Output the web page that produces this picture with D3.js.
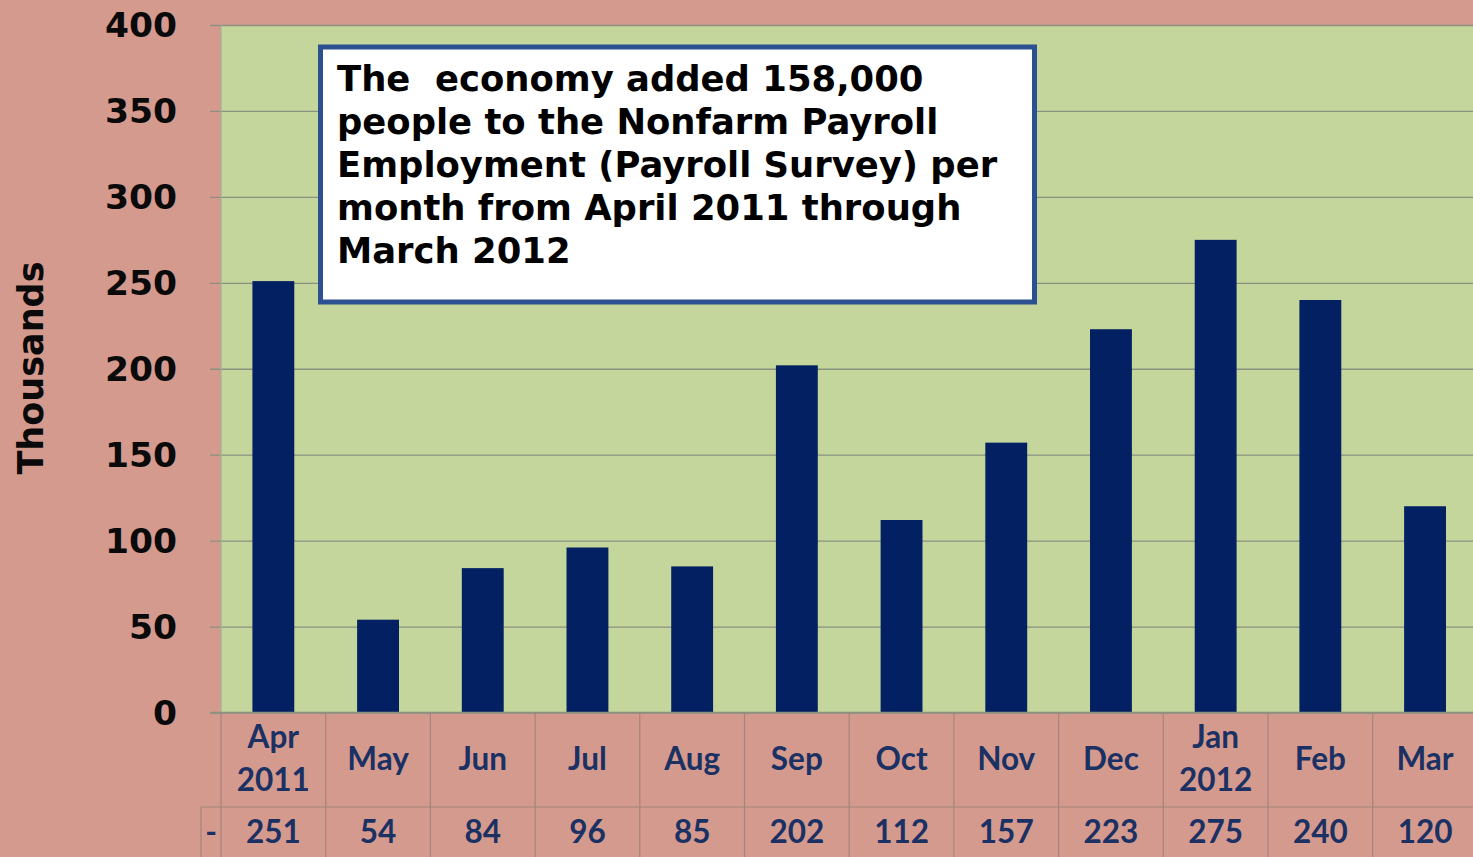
<!DOCTYPE html>
<html>
<head>
<meta charset="utf-8">
<script src="https://cdn.jsdelivr.net/npm/d3@7/dist/d3.min.js"></script>
<style>
  html, body { margin: 0; padding: 0; background: #d59a8e; }
  svg { display: block; }
</style>
</head>
<body>
<svg id="chart" width="1473" height="857"></svg>
<script>
// Monthly change in nonfarm payroll employment, thousands
const months = ["Apr", "May", "Jun", "Jul", "Aug", "Sep", "Oct", "Nov", "Dec", "Jan", "Feb", "Mar"];
const years = ["2011", "", "", "", "", "", "", "", "", "2012", "", ""];
const jobsAdded = [251, 54, 84, 96, 85, 202, 112, 157, 223, 275, 240, 120];
const yTicks = [0, 50, 100, 150, 200, 250, 300, 350, 400];
const noteLines = [
  "The  economy added 158,000",
  "people to the Nonfarm Payroll",
  "Employment (Payroll Survey) per",
  "month from April 2011 through",
  "March 2012"
];

const W = 1473, H = 857;
const plot = { left: 221, top: 25, bottom: 712.5 };
const step = 104.7;
const plotRight = plot.left + step * months.length;

const svg = d3.select("#chart");
const navy = "#1b3163";
const gridColor = "#8b917f";
const tableLine = "#a4847d";

// background
svg.append("rect").attr("width", W).attr("height", H).attr("fill", "#d59a8e");

// scales
const x = d3.scaleBand().domain(months).range([plot.left, plotRight])
  .paddingInner(0.6).paddingOuter(0.3);
const cell = d3.scaleBand().domain(months).range([plot.left, plotRight]).padding(0);
const y = d3.scaleLinear().domain([0, 400]).range([plot.bottom, plot.top]);

// plot area
svg.append("rect")
  .attr("x", plot.left).attr("y", plot.top)
  .attr("width", plotRight - plot.left).attr("height", plot.bottom - plot.top)
  .attr("fill", "#c4d69c");

// gridlines, starting with a short stub left of the plot area
const yAxis = d3.axisLeft(y).tickValues(yTicks).tickSize(-(plotRight - plot.left + 11)).tickFormat("");
svg.append("g")
  .attr("transform", `translate(${plot.left - 11},0)`)
  .call(yAxis)
  .call(g => g.select(".domain").remove())
  .call(g => g.selectAll(".tick line").attr("stroke", gridColor).attr("stroke-width", 1.3));

// vertical axis line
svg.append("line")
  .attr("x1", plot.left).attr("x2", plot.left)
  .attr("y1", plot.top).attr("y2", plot.bottom)
  .attr("stroke", "#a8ae9a").attr("stroke-width", 1.2);

// y tick labels
svg.append("g").selectAll("text").data(yTicks).join("text")
  .attr("x", 177).attr("y", d => y(d))
  .attr("dy", "0.36em")
  .attr("text-anchor", "end")
  .attr("font-family", "DejaVu Sans, Verdana, sans-serif")
  .attr("font-weight", "bold").attr("font-size", 34.5)
  .attr("fill", "#0a0a0a")
  .text(d => d);

// y axis title
svg.append("text")
  .attr("transform", `translate(43,368) rotate(-90)`)
  .attr("text-anchor", "middle")
  .attr("font-family", "DejaVu Sans, Verdana, sans-serif")
  .attr("font-weight", "bold").attr("font-size", 35)
  .attr("fill", "#0a0a0a")
  .text("Thousands");

// bars
svg.append("g").selectAll("rect").data(jobsAdded).join("rect")
  .attr("x", (d, i) => x(months[i]))
  .attr("y", d => y(d))
  .attr("width", x.bandwidth())
  .attr("height", d => y(0) - y(d))
  .attr("fill", "#032162");

// data table below the plot
const rowTop = plot.bottom, rowMid = 807, rowBottom = 880;
const table = svg.append("g");
table.append("line")
  .attr("x1", plot.left - 11).attr("x2", W).attr("y1", rowTop).attr("y2", rowTop)
  .attr("stroke", gridColor).attr("stroke-width", 1.3);
table.append("line")
  .attr("x1", 201).attr("x2", W).attr("y1", rowMid).attr("y2", rowMid)
  .attr("stroke", tableLine).attr("stroke-width", 1.2);
table.append("line")
  .attr("x1", 201).attr("x2", 201).attr("y1", rowMid).attr("y2", rowBottom)
  .attr("stroke", tableLine).attr("stroke-width", 1.2);
table.selectAll("line.sep").data(months.concat(["end"])).join("line")
  .attr("class", "sep")
  .attr("x1", (d, i) => plot.left + i * cell.step())
  .attr("x2", (d, i) => plot.left + i * cell.step())
  .attr("y1", rowTop).attr("y2", rowBottom)
  .attr("stroke", tableLine).attr("stroke-width", 1.2);

const labelFont = "Lato, 'Open Sans', sans-serif";
// month labels
const catLabels = table.append("g").selectAll("text").data(months).join("text")
  .attr("x", d => cell(d) + cell.bandwidth() / 2)
  .attr("text-anchor", "middle")
  .attr("font-family", labelFont).attr("font-weight", "bold").attr("font-size", 31.5)
  .attr("fill", navy);
catLabels.each(function(d, i) {
  const t = d3.select(this);
  if (years[i]) {
    t.append("tspan").attr("x", cell(d) + cell.bandwidth() / 2).attr("y", 748).text(d);
    t.append("tspan").attr("x", cell(d) + cell.bandwidth() / 2).attr("y", 791).text(years[i]);
  } else {
    t.attr("y", 770).text(d);
  }
});

// legend key cell and values
table.append("text")
  .attr("x", 211).attr("y", 843)
  .attr("text-anchor", "middle")
  .attr("font-family", labelFont).attr("font-weight", "bold").attr("font-size", 31.5)
  .attr("fill", navy).text("-");
table.append("g").selectAll("text").data(jobsAdded).join("text")
  .attr("x", (d, i) => cell(months[i]) + cell.bandwidth() / 2)
  .attr("y", 843)
  .attr("text-anchor", "middle")
  .attr("font-family", labelFont).attr("font-weight", "bold").attr("font-size", 31.5)
  .attr("fill", navy)
  .text(d => d);

// annotation box
const box = { x: 320.5, y: 47, w: 714, h: 255 };
svg.append("rect")
  .attr("x", box.x).attr("y", box.y).attr("width", box.w).attr("height", box.h)
  .attr("fill", "#ffffff").attr("stroke", "#2b5190").attr("stroke-width", 5);
svg.append("g").selectAll("text").data(noteLines).join("text")
  .attr("x", 337).attr("y", (d, i) => 91 + i * 43)
  .attr("font-family", "DejaVu Sans, Verdana, sans-serif")
  .attr("font-weight", "bold").attr("font-size", 35.4)
  .attr("fill", "#000000")
  .style("white-space", "pre")
  .text(d => d);
</script>
</body>
</html>
